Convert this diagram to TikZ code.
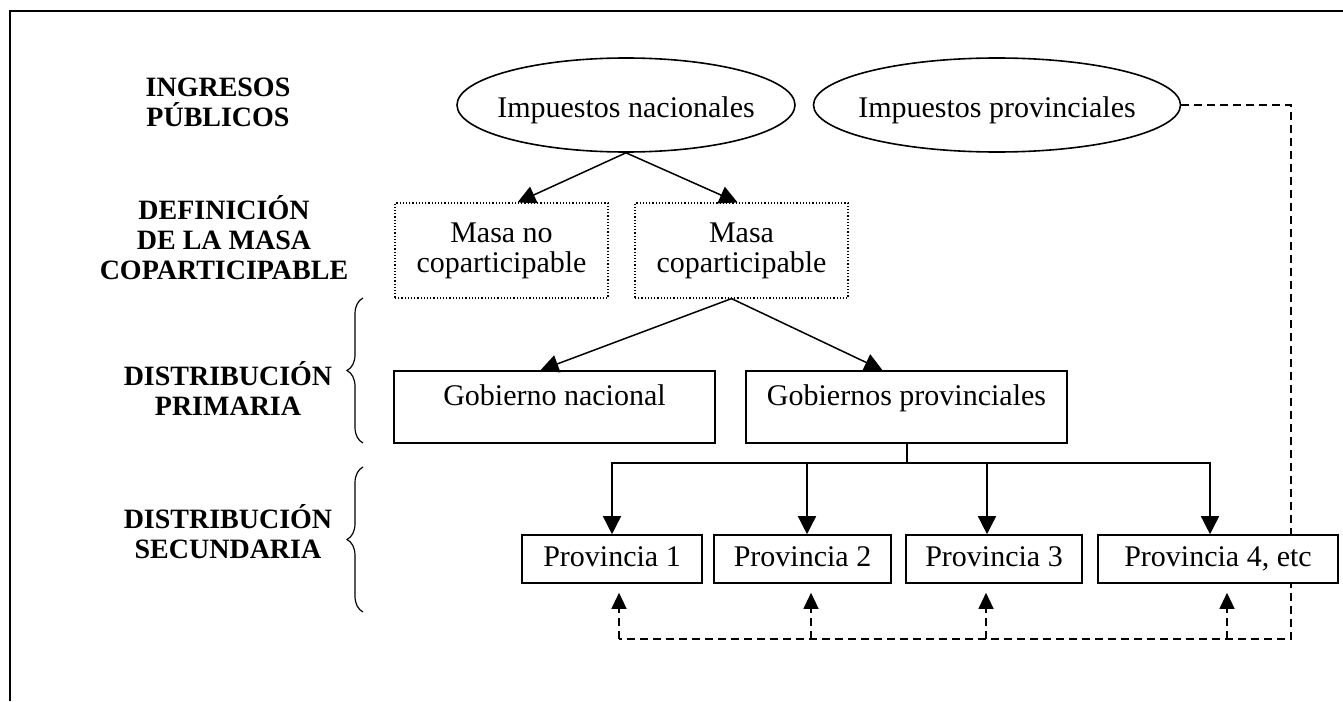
\documentclass[tikz,border=0pt]{standalone}
\usepackage{fontspec}
\setmainfont{Liberation Serif}
\usetikzlibrary{arrows.meta,
	backgrounds,
	decorations.pathreplacing,
	shapes}

\begin{document}
\begin{tikzpicture}[x=0.5pt,y=-0.5pt,font=\fontsize{15}{15}\selectfont]
    \tikzstyle{stage}=[align=center,font=\fontsize{14}{15}\selectfont\bfseries]
    \tikzstyle{impuesto}=[ellipse,draw,line width=0.8pt,inner sep=0pt,minimum width=169pt,minimum height=47pt]
    \tikzstyle{masa}=[draw,densely dotted,line width=0.6pt,align=center,minimum width=106.5pt,minimum height=47.5pt]
    \tikzstyle{gobierno}=[draw,line width=0.8pt,minimum width=160.5pt,inner ysep=0pt,text height=17pt,text depth=19pt]
    \tikzstyle{provincia}=[draw,fill=white,line width=0.8pt,minimum height=24pt,inner xsep=0pt,text height=10.5pt,text depth=3pt]
    \tikzstyle{flow}=[line width=0.75pt,-{Triangle[length=9pt,width=9pt]}]
    \tikzstyle{back}=[line width=0.6pt,dash pattern=on 4pt off 2.5pt]
    \tikzstyle{curly}=[line width=0.6pt,decorate,decoration={brace,amplitude=8pt}]
    \useasboundingbox (0,0) rectangle (1343,701);
    \draw[line width=1pt] (10,701) -- (10,11) -- (1343,11);

    \node[stage] (ingresos) at (218,102) {INGRESOS\\PÚBLICOS};
    \node[stage] (definicion) at (224,238) {DEFINICIÓN\\DE LA MASA\\COPARTICIPABLE};
    \node[stage] (primaria) at (228,388) {DISTRIBUCIÓN\\PRIMARIA};
    \node[stage] (secundaria) at (228,532) {DISTRIBUCIÓN\\SECUNDARIA};
    \draw[curly] (363,443) -- (363,298);
    \draw[curly] (363,612) -- (363,467);

    \node[impuesto,label={[yshift=-2.5pt]center:Impuestos nacionales}] (nac) at (626,105) {};
    \node[impuesto,minimum width=183.5pt,label={[yshift=-2.5pt]center:Impuestos provinciales}] (prov) at (997,105) {};
    \node[masa] (masano) at (501.5,250.5) {Masa no\\coparticipable};
    \node[masa] (cop) at (741.5,250.5) {Masa\\coparticipable};
    \node[gobierno] (gnac) at (554.5,407) {Gobierno nacional};
    \node[gobierno] (gprov) at (906.5,407) {Gobiernos provinciales};
    \node[provincia,minimum width=90pt] (p1) at (612,559) {Provincia 1};
    \node[provincia,minimum width=88.5pt] (p2) at (802.5,559) {Provincia 2};
    \node[provincia,minimum width=88pt] (p3) at (994,559) {Provincia 3};
    \node[provincia,minimum width=120pt] (p4) at (1218,559) {Provincia 4, etc};

    \draw[flow] (nac.south) -- ([xshift=8pt]masano.north);
    \draw[flow] (nac.south) -- ([xshift=-2pt]cop.north);
    \draw[flow] ([xshift=-5pt]cop.south) -- ([xshift=-7pt]gnac.north);
    \draw[flow] ([xshift=-5pt]cop.south) -- ([xshift=-12pt]gprov.north);
    \foreach \p/\s in {p1/0pt,p2/2.25pt,p3/-3.5pt,p4/-4pt}
      \draw[flow] ([xshift=0.25pt]gprov.south) -- ++(0,19) -| ([xshift=\s]\p.north);

    \coordinate (turn) at (1291,639);
    \begin{scope}[on background layer]
      \draw[back] (prov.east) -| (turn) -- ([xshift=3.5pt]p1.south |- turn);
    \end{scope}
    \foreach \p/\s in {p1/3.5pt,p2/4.25pt,p3/-4pt,p4/4.5pt}
      \draw[back,-{Triangle[length=8pt,width=7.5pt]}] ([xshift=\s]\p.south |- turn) -- ([xshift=\s,yshift=-4.5pt]\p.south);
\end{tikzpicture}
\end{document}
